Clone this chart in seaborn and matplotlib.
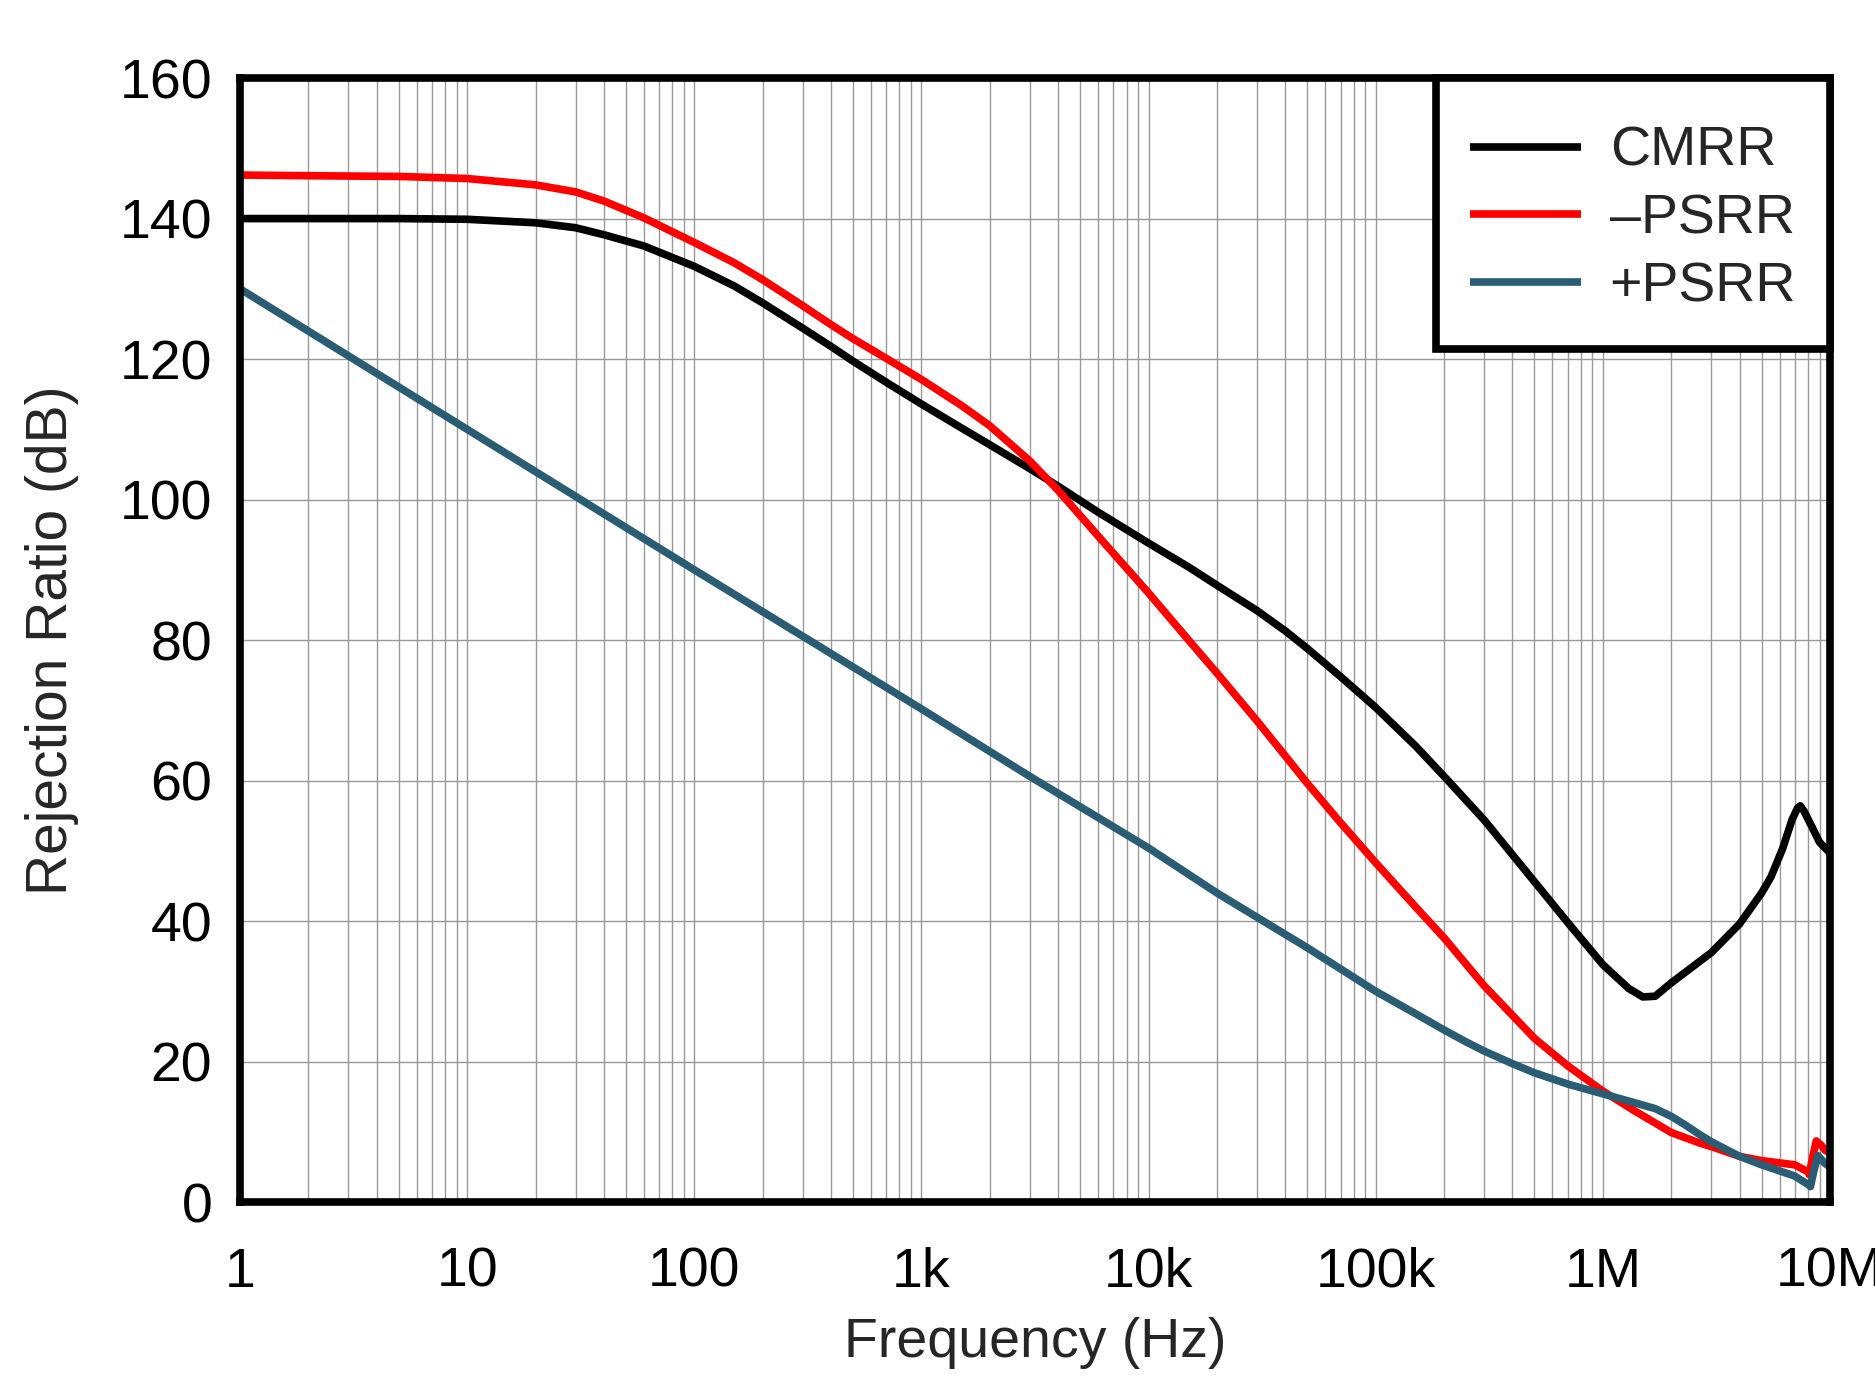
import numpy as np
import pandas as pd
import matplotlib
matplotlib.use("Agg")
import matplotlib.pyplot as plt
from matplotlib.patches import Rectangle
from matplotlib.ticker import LogLocator, FixedLocator, NullFormatter
import seaborn as sns

# ---------------- data ----------------
cmrr_freq = [1, 2, 5, 10, 20, 30, 40, 60, 100, 150, 200, 300, 400, 500, 700,
             1e3, 1.5e3, 2e3, 3e3, 4e3, 6e3, 1e4, 1.5e4, 2e4, 3e4, 4e4, 5e4, 7e4,
             1e5, 1.5e5, 2e5, 3e5, 5e5, 7e5, 1e6, 1.3e6, 1.5e6, 1.7e6, 2e6, 3e6,
             4e6, 5e6, 5.5e6, 6.2e6, 6.8e6, 7.2e6, 7.4e6, 7.7e6, 8.3e6, 9e6, 1e7]
cmrr_db = [140.0, 140.0, 140.0, 139.9, 139.4, 138.7, 137.7, 136.1, 133.2, 130.4,
           128.0, 124.4, 121.8, 119.7, 116.7, 113.6, 110.2, 107.8, 104.4, 101.9,
           98.2, 93.8, 90.4, 87.8, 84.2, 81.3, 78.8, 74.8, 70.4, 64.9, 60.6, 54.4,
           45.6, 39.8, 33.8, 30.4, 29.2, 29.3, 31.2, 35.5, 39.6, 44.0, 46.3, 50.4,
           54.4, 56.1, 56.4, 55.6, 53.5, 51.2, 49.7]

psrr_neg_freq = [1, 2, 5, 10, 20, 30, 40, 60, 100, 150, 200, 300, 400, 500, 700,
                 1e3, 1.5e3, 2e3, 3e3, 4e3, 6e3, 1e4, 1.5e4, 2e4, 3e4, 4e4, 5e4,
                 7e4, 1e5, 1.5e5, 2e5, 3e5, 5e5, 7e5, 1e6, 1.36e6, 2e6, 2.67e6,
                 3e6, 4e6, 5e6, 7e6, 8e6, 8.1e6, 8.4e6, 8.7e6, 9.2e6, 9.5e6, 1e7]
psrr_neg_db = [146.2, 146.1, 146.0, 145.7, 144.8, 143.8, 142.5, 140.1, 136.6,
               133.7, 131.3, 127.6, 124.9, 122.9, 120.1, 117.1, 113.4, 110.5,
               105.5, 101.3, 94.8, 86.7, 80.0, 75.3, 68.5, 63.5, 59.6, 54.0, 48.3,
               42.0, 37.6, 30.8, 23.3, 19.4, 15.8, 13.1, 9.9, 8.4, 7.9, 6.5, 5.9,
               5.3, 4.3, 3.9, 6.5, 8.7, 8.0, 7.4, 7.0]

psrr_pos_freq = [1, 10, 100, 1e3, 3e3, 1e4, 2e4, 5e4, 1e5, 1.5e5, 2e5, 2.5e5,
                 3e5, 4e5, 5e5, 7e5, 1e6, 1.36e6, 1.7e6, 2e6, 2.3e6, 2.67e6, 3e6,
                 4e6, 5e6, 7e6, 8e6, 8.2e6, 8.5e6, 8.85e6, 9.5e6, 1e7]
psrr_pos_db = [130.0, 110.0, 90.0, 70.2, 60.6, 50.4, 44.0, 36.2, 30.0, 26.8,
               24.5, 22.8, 21.5, 19.7, 18.4, 16.8, 15.4, 14.2, 13.3, 12.2, 11.0,
               9.6, 8.6, 6.5, 5.3, 3.7, 2.5, 2.2, 4.5, 6.6, 5.5, 5.0]

series_names = ["CMRR", "\u2013PSRR", "+PSRR"]
series_colors = ["#000000", "#FF0000", "#2A5D74"]

x_ticks = [1, 10, 100, 1e3, 1e4, 1e5, 1e6, 1e7]
x_tick_labels = ["1", "10", "100", "1k", "10k", "100k", "1M", "10M"]
y_ticks = [0, 20, 40, 60, 80, 100, 120, 140, 160]

# ---------------- long-form table ----------------
df = pd.concat([
    pd.DataFrame({"freq": cmrr_freq, "db": cmrr_db, "series": series_names[0]}),
    pd.DataFrame({"freq": psrr_neg_freq, "db": psrr_neg_db, "series": series_names[1]}),
    pd.DataFrame({"freq": psrr_pos_freq, "db": psrr_pos_db, "series": series_names[2]}),
], ignore_index=True)

# ---------------- style ----------------
sns.set_style("white")
plt.rcParams["font.family"] = ["Liberation Sans", "DejaVu Sans"]

fig = plt.figure(figsize=(18.75, 13.82), dpi=100)
ax = fig.add_axes([0.128, 0.1302, 0.848, 0.8133])

sns.lineplot(data=df, x="freq", y="db", hue="series", hue_order=series_names,
             palette=dict(zip(series_names, series_colors)), linewidth=5.5,
             estimator=None, sort=False, ax=ax)
for ln in ax.get_lines():
    ln.set_linewidth(5.5)
    ln.set_solid_joinstyle("round")
    ln.set_solid_capstyle("butt")

ax.set_xscale("log")
ax.set_xlim(1, 1e7)
ax.set_ylim(0, 160)

ax.xaxis.set_major_locator(FixedLocator(x_ticks))
ax.set_xticklabels(x_tick_labels)
ax.xaxis.set_minor_locator(LogLocator(base=10, subs=np.arange(2, 10)))
ax.xaxis.set_minor_formatter(NullFormatter())
ax.set_yticks(y_ticks)
ax.set_yticklabels([str(v) for v in y_ticks])

ax.grid(which="major", axis="both", color="#999999", linewidth=1.0)
ax.grid(which="minor", axis="x", color="#999999", linewidth=1.0)
ax.set_axisbelow(True)

ax.tick_params(axis="both", which="both", length=0, labelsize=40, colors="black")
ax.tick_params(axis="x", which="major", pad=32)
ax.tick_params(axis="y", which="major", pad=20)

for sp in ax.spines.values():
    sp.set_visible(True)
    sp.set_color("black")
    sp.set_linewidth(5.5)

ax.set_xlabel("Frequency (Hz)", fontsize=40)
ax.set_ylabel("Rejection Ratio (dB)", fontsize=41)
ax.xaxis.set_label_coords(0.5, -0.102)
ax.yaxis.set_label_coords(-0.101, 0.5)

# legend frame (square, thick, tied to the top-right corner of the axes)
ax.add_patch(Rectangle((0.7522, 0.7589), 1 - 0.7522, 1 - 0.7589,
                       transform=ax.transAxes, facecolor="white",
                       edgecolor="black", linewidth=5.5, zorder=4,
                       clip_on=False))

handles, labels = ax.get_legend_handles_labels()
leg = ax.legend(handles, labels, loc="center", bbox_to_anchor=(0.8761, 0.874),
                fontsize=40, frameon=False, handlelength=2.0,
                handletextpad=0.52, borderpad=0.0, labelspacing=0.283)
leg.set_zorder(5)
for line in leg.get_lines():
    line.set_linewidth(5.5)

fig.savefig("out.png", dpi=100, facecolor="white")
